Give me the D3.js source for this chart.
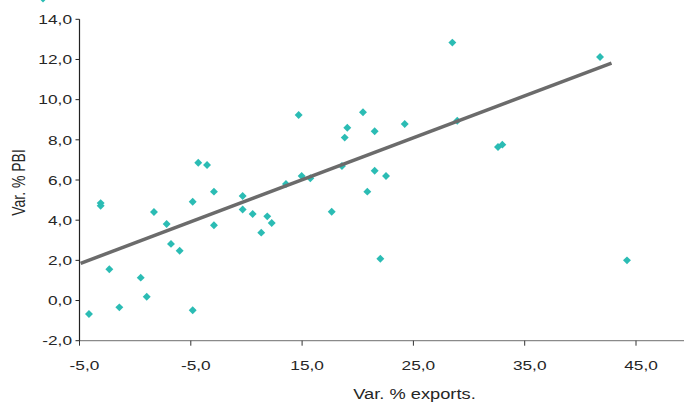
<!DOCTYPE html>
<html>
<head>
<meta charset="utf-8">
<script src="https://cdn.jsdelivr.net/npm/d3@7"></script>
<style>
  html, body { margin: 0; padding: 0; background: #fff; }
  svg { display: block; font-family: "Liberation Sans", Arial, sans-serif; }
</style>
</head>
<body>
<div id="chart"></div>
<script>
// Var. % exports (x) vs Var. % PBI (y)
const exportsGrowth = [-4.15, -3.10, -3.10, -2.32, -1.42, 0.50, 1.04, 1.69, 2.83, 3.22, 4.00, 5.17, 5.17, 5.67, 6.46, 7.08, 7.08,
  9.66, 9.66, 10.56, 11.33, 11.87, 12.27, 13.55, 14.69, 14.96, 15.74, 17.66, 18.58, 18.83, 19.06, 20.47, 20.86,
  21.52, 21.52, 22.03, 22.54, 24.22, 28.50, 28.94, 32.60, 32.99, 41.77, 44.19]
const gdpGrowth = [-0.67, 4.85, 4.72, 1.56, -0.34, 1.14, 0.19, 4.41, 3.81, 2.82, 2.48, -0.48, 4.92, 6.86, 6.75, 5.42, 3.75,
  5.20, 4.53, 4.31, 3.38, 4.19, 3.86, 5.80, 9.24, 6.20, 6.09, 4.42, 6.70, 8.11, 8.60, 9.37, 5.42,
  8.43, 6.46, 2.08, 6.20, 8.79, 12.84, 8.95, 7.64, 7.76, 12.12, 2.00]

// linear trend line ends
const trendX = [-4.9, 42.8]
const trendY = [1.85, 11.82]

const xTickValues = [-5, 5, 15, 25, 35, 45]
const xTickLabels = ["-5,0", "-5,0", "15,0", "25,0", "35,0", "45,0"]
const yTickValues = [14, 12, 10, 8, 6, 4, 2, 0, -2]
const yTickLabels = ["14,0", "12,0", "10,0", "8,0", "6,0", "4,0", "2,0", "0,0", "-2,0"]

const width = 684
const height = 402
const pointColor = "#2bbcb4"
const textColor = "#262626"

const x = d3.scaleLinear().domain([-5, 45]).range([79.5, 636])
const y = d3.scaleLinear().domain([-2, 14]).range([340.7, 19.3])

const svg = d3.select("#chart")
  .append("svg")
  .attr("width", width)
  .attr("height", height)
  .attr("viewBox", `0 0 ${width} ${height}`)

// clipped legend marker peeking in at the top-left corner
svg.append("path")
  .attr("d", d3.symbol(d3.symbolDiamond2, 40)())
  .attr("transform", "translate(43,-1.5)")
  .attr("fill", pointColor)

// x axis
svg.append("line")
  .attr("x1", x(-5)).attr("x2", width)
  .attr("y1", y(-2)).attr("y2", y(-2))
  .attr("stroke", "#8a8a8a")
  .attr("stroke-width", 1.2)

svg.append("g")
  .selectAll("line")
  .data(xTickValues)
  .join("line")
  .attr("x1", d => x(d)).attr("x2", d => x(d))
  .attr("y1", y(-2)).attr("y2", y(-2) + 5)
  .attr("stroke", "#333")
  .attr("stroke-width", 1)

svg.append("g")
  .selectAll("text")
  .data(xTickValues)
  .join("text")
  .attr("transform", d => `translate(${x(d) + 5},370) scale(1.33,1)`)
  .attr("text-anchor", "middle")
  .attr("font-size", 13)
  .attr("fill", textColor)
  .text((d, i) => xTickLabels[i])

// y axis
svg.append("line")
  .attr("x1", x(-5)).attr("x2", x(-5))
  .attr("y1", y(14)).attr("y2", y(-2))
  .attr("stroke", "#222")
  .attr("stroke-width", 1.2)

svg.append("g")
  .selectAll("line")
  .data(yTickValues)
  .join("line")
  .attr("x1", x(-5) - 4).attr("x2", x(-5))
  .attr("y1", d => y(d)).attr("y2", d => y(d))
  .attr("stroke", "#222")
  .attr("stroke-width", 1)

svg.append("g")
  .selectAll("text")
  .data(yTickValues)
  .join("text")
  .attr("transform", d => `translate(72,${y(d)}) scale(1.33,1)`)
  .attr("dy", "0.36em")
  .attr("text-anchor", "end")
  .attr("font-size", 13)
  .attr("fill", textColor)
  .text((d, i) => yTickLabels[i])

// axis titles
svg.append("text")
  .attr("transform", "translate(414.5,399) scale(1.26,1)")
  .attr("text-anchor", "middle")
  .attr("font-size", 14.5)
  .attr("fill", textColor)
  .text("Var. % exports.")

svg.append("text")
  .attr("transform", "translate(25,182.5) scale(1.3,1) rotate(-90)")
  .attr("text-anchor", "middle")
  .attr("font-size", 14)
  .attr("fill", textColor)
  .text("Var. % PBI")

// points
svg.append("g")
  .selectAll("path")
  .data(exportsGrowth.map((v, i) => [v, gdpGrowth[i]]))
  .join("path")
  .attr("d", d3.symbol(d3.symbolDiamond2, 40)())
  .attr("transform", d => `translate(${x(d[0])},${y(d[1])})`)
  .attr("fill", pointColor)

// trend line
svg.append("path")
  .datum(trendX.map((v, i) => [v, trendY[i]]))
  .attr("fill", "none")
  .attr("stroke", "#6b6b6b")
  .attr("stroke-width", 3.5)
  .attr("d", d3.line().x(d => x(d[0])).y(d => y(d[1])))
</script>
</body>
</html>
